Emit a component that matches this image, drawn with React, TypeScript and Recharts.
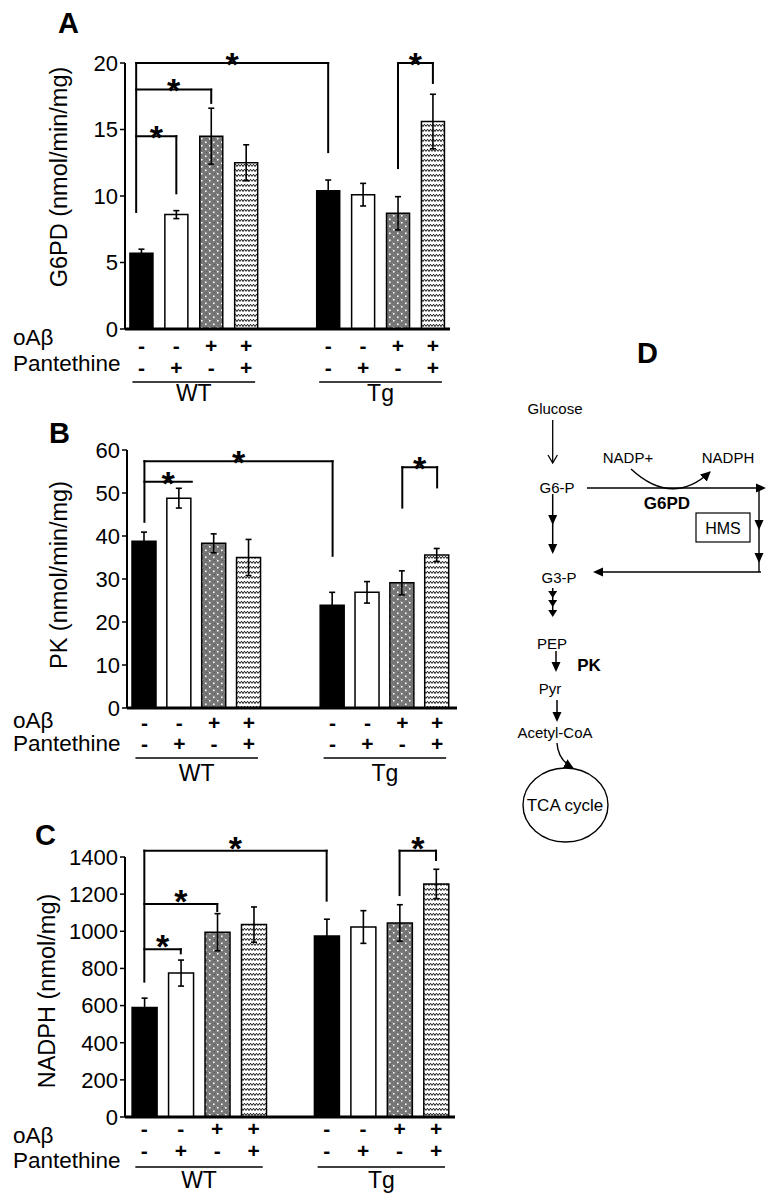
import React from "react";
import {
    BarChart,
    Bar,
    Cell,
    XAxis,
    YAxis,
    ErrorBar,
    ReferenceLine,
} from "recharts";

const FONT = "'Liberation Sans', Arial, sans-serif";

// treatment rows printed under each bar
const oabSigns = ["-", "-", "+", "+", "-", "-", "+", "+"];
const pantethineSigns = ["-", "+", "-", "+", "-", "+", "-", "+"];
const groupNames = ["WT", "Tg"];

// A: G6PD activity (nmol/min/mg)
const g6pdMeans = [5.7, 8.6, 14.5, 12.5, 10.4, 10.1, 8.7, 15.6];
const g6pdErrors = [0.3, 0.3, 2.1, 1.35, 0.8, 0.85, 1.25, 2.05];
const g6pdTicks = [0, 5, 10, 15, 20];

// B: PK activity (nmol/min/mg)
const pkMeans = [38.8, 48.8, 38.3, 35.0, 23.9, 26.9, 29.1, 35.6];
const pkErrors = [2.1, 2.3, 2.2, 4.2, 3.0, 2.5, 2.8, 1.5];
const pkTicks = [0, 10, 20, 30, 40, 50, 60];

// C: NADPH (nmol/mg)
const nadphMeans = [590, 775, 995, 1036, 975, 1023, 1045, 1255];
const nadphErrors = [50, 70, 100, 95, 90, 88, 98, 79];
const nadphTicks = [0, 200, 400, 600, 800, 1000, 1200, 1400];

// significance brackets: bar index at each end, bracket height, and where each leg stops
interface Bracket {
    from: number;
    to: number;
    y: number;
    fromY: number;
    toY: number;
}

const g6pdBrackets: Bracket[] = [
    { from: -0.15, to: 4, y: 20, fromY: 8.8, toY: 13.3 },
    { from: -0.15, to: 2, y: 18, fromY: 18, toY: 17 },
    { from: -0.15, to: 1, y: 14.5, fromY: 14.5, toY: 10.2 },
    { from: 6, to: 7, y: 20, fromY: 12.1, toY: 18.5 },
];
const pkBrackets: Bracket[] = [
    { from: 0, to: 4, y: 57.4, fromY: 43.3, toY: 35.4 },
    { from: 0, to: 1.36, y: 52.6, fromY: 52.6, toY: 52.6 },
    { from: 6, to: 7, y: 56, fromY: 46.6, toY: 51.3 },
];
const nadphBrackets: Bracket[] = [
    { from: 0, to: 4, y: 1434, fromY: 729, toY: 1165 },
    { from: 0, to: 2, y: 1147, fromY: 1147, toY: 1109 },
    { from: 0, to: 1, y: 903, fromY: 903, toY: 881 },
    { from: 6, to: 7, y: 1434, fromY: 1195, toY: 1384 },
];

const BAR_FILLS = ["#000000", "#ffffff", "url(#dotFill)", "url(#zigFill)"];

const Star = (props: any) => {
    const vb = props.viewBox || {};
    const cx = (vb.x || 0) + (vb.width || 0) / 2;
    return (
        <text
            x={cx}
            y={(vb.y || 0) - props.lift + 19}
            textAnchor="middle"
            fontSize={34}
            fontWeight="bold"
            fontFamily={FONT}
            fill="#000"
        >
            *
        </text>
    );
};

interface PanelProps {
    means: number[];
    errors: number[];
    brackets: Bracket[];
    yMax: number;
    yTicks: number[];
    plotLeft: number;
    plotRight: number;
    plotTop: number;
    plotBottom: number;
    xMin: number;
    xMax: number;
    gap: number;
    barSize: number;
    starLift: number;
    rows: number[]; // offsets below the axis: oAβ row, pantethine row, group line, group name
}

const BarPanel: React.FC<PanelProps> = (p) => {
    const width = 470;
    const xAxisH = 80;
    const top = p.plotTop - 45;
    const height = 45 + (p.plotBottom - p.plotTop) + xAxisH + 5;
    const pos = (i: number) => i + (i > 3.5 ? p.gap : 0);
    const data = p.means.map((v, i) => ({
        pos: pos(i),
        value: v,
        err: p.errors[i],
    }));
    const slotPx = (p.plotRight - p.plotLeft) / (p.xMax - p.xMin);

    const renderTick = (t: any) => {
        const i = t.index;
        const x = t.x;
        const y = t.y;
        const signStyle = {
            fontSize: 21,
            fontWeight: "bold" as const,
            fontFamily: FONT,
        };
        return (
            <g>
                <text x={x} y={y + p.rows[0]} textAnchor="middle" dominantBaseline="central" {...signStyle}>
                    {oabSigns[i]}
                </text>
                <text x={x} y={y + p.rows[1]} textAnchor="middle" dominantBaseline="central" {...signStyle}>
                    {pantethineSigns[i]}
                </text>
                {i % 4 === 0 && (
                    <g>
                        <line
                            x1={x - 9}
                            x2={x + 3 * slotPx + 9}
                            y1={y + p.rows[2]}
                            y2={y + p.rows[2]}
                            stroke="#000"
                            strokeWidth={1.6}
                        />
                        <text
                            x={x + 1.5 * slotPx}
                            y={y + p.rows[3]}
                            textAnchor="middle"
                            dominantBaseline="central"
                            fontSize={23}
                            fontFamily={FONT}
                        >
                            {groupNames[i / 4]}
                        </text>
                    </g>
                )}
            </g>
        );
    };

    const lineProps = {
        stroke: "#000",
        strokeWidth: 2,
        strokeLinecap: "square" as const,
        ifOverflow: "visible" as const,
    };

    const bracketLines = p.brackets.flatMap((b, k) => {
        const x1 = pos(b.from);
        const x2 = pos(b.to);
        const out = [
            <ReferenceLine
                key={`h${k}`}
                segment={[{ x: x1, y: b.y }, { x: x2, y: b.y }]}
                {...lineProps}
                label={<Star lift={p.starLift} />}
            />,
        ];
        if (b.fromY !== b.y)
            out.push(
                <ReferenceLine key={`l${k}`} segment={[{ x: x1, y: b.fromY }, { x: x1, y: b.y }]} {...lineProps} />
            );
        if (b.toY !== b.y)
            out.push(
                <ReferenceLine key={`r${k}`} segment={[{ x: x2, y: b.toY }, { x: x2, y: b.y }]} {...lineProps} />
            );
        return out;
    });

    return (
        <div style={{ position: "absolute", left: 0, top }}>
            <BarChart
                width={width}
                height={height}
                data={data}
                margin={{ top: 45, right: width - p.plotRight, bottom: 5, left: p.plotLeft - 60 }}
            >
                <XAxis
                    dataKey="pos"
                    type="number"
                    domain={[p.xMin, p.xMax]}
                    allowDataOverflow
                    ticks={data.map((d) => d.pos)}
                    interval={0}
                    height={xAxisH}
                    tickLine={false}
                    tickSize={0}
                    tickMargin={0}
                    axisLine={{ stroke: "#000", strokeWidth: 3 }}
                    tick={renderTick}
                />
                <YAxis
                    type="number"
                    domain={[0, p.yMax]}
                    ticks={p.yTicks}
                    interval={0}
                    width={60}
                    tickSize={5}
                    tickLine={{ stroke: "#000", strokeWidth: 1.5 }}
                    axisLine={{ stroke: "#000", strokeWidth: 2 }}
                    tick={{ fill: "#000", fontSize: 22, fontFamily: FONT }}
                />
                <Bar
                    dataKey="value"
                    barSize={p.barSize}
                    stroke="#000"
                    strokeWidth={1.5}
                    isAnimationActive={false}
                >
                    {data.map((d, i) => (
                        <Cell key={i} fill={BAR_FILLS[i % 4]} />
                    ))}
                    <ErrorBar dataKey="err" width={3} stroke="#000" strokeWidth={1.6} />
                </Bar>
                {bracketLines}
            </BarChart>
        </div>
    );
};

const tri = (x: number, y: number, dir: string, w = 9, l = 10) => {
    if (dir === "down") return `${x - w / 2},${y - l} ${x + w / 2},${y - l} ${x},${y}`;
    if (dir === "right") return `${x - l},${y - w / 2} ${x - l},${y + w / 2} ${x},${y}`;
    return `${x + l},${y - w / 2} ${x + l},${y + w / 2} ${x},${y}`;
};

const Overlay = () => {
    const t = { fontFamily: FONT, fill: "#000" };
    const small = { ...t, fontSize: 15 };
    return (
        <svg
            width={769}
            height={1199}
            style={{ position: "absolute", left: 0, top: 0 }}
        >
            <defs>
                <pattern id="dotFill" width={8} height={7} patternUnits="userSpaceOnUse">
                    <rect width={8} height={7} fill="#767676" />
                    <rect x={0} y={0} width={1} height={1} fill="#9a9a9a" />
                    <rect x={2} y={2} width={1} height={1} fill="#555" />
                    <rect x={6} y={1} width={1} height={1} fill="#555" />
                    <rect x={1} y={1} width={1.6} height={1.6} fill="#ffffff" />
                    <rect x={5} y={4.5} width={1.6} height={1.6} fill="#ffffff" />
                </pattern>
                <pattern id="zigFill" width={6} height={5} patternUnits="userSpaceOnUse">
                    <rect width={6} height={5} fill="#ffffff" />
                    <path d="M0,3.6 L1.5,1.2 L3,3.6 L4.5,1.2 L6,3.6" stroke="#111" strokeWidth={1} fill="none" />
                </pattern>
                <marker id="head" viewBox="0 0 10 10" refX={9} refY={5} markerWidth={10} markerHeight={10} markerUnits="userSpaceOnUse" orient="auto">
                    <path d="M0,0 L10,5 L0,10 z" fill="#000" />
                </marker>
            </defs>

            {/* panel letters */}
            <text x={58} y={33} fontSize={29} fontWeight="bold" {...t}>A</text>
            <text x={49} y={443} fontSize={29} fontWeight="bold" {...t}>B</text>
            <text x={35} y={845} fontSize={29} fontWeight="bold" {...t}>C</text>
            <text x={637} y={363} fontSize={29} fontWeight="bold" {...t}>D</text>

            {/* axis titles */}
            <text transform="translate(59,177) rotate(-90)" textAnchor="middle" dominantBaseline="central" fontSize={23.5} {...t}>
                G6PD (nmol/min/mg)
            </text>
            <text transform="translate(59,575) rotate(-90)" textAnchor="middle" dominantBaseline="central" fontSize={23.5} {...t}>
                PK (nmol/min/mg)
            </text>
            <text transform="translate(47,991) rotate(-90)" textAnchor="middle" dominantBaseline="central" fontSize={23.5} {...t}>
                NADPH (nmol/mg)
            </text>

            {/* row labels */}
            {[
                [337, 363],
                [720, 743],
                [1135, 1160],
            ].map(([a, b], k) => (
                <g key={k}>
                    <text x={13} y={a} dominantBaseline="central" fontSize={22.5} {...t}>oAβ</text>
                    <text x={13} y={b} dominantBaseline="central" fontSize={22.5} {...t}>Pantethine</text>
                </g>
            ))}

            {/* D: pathway diagram */}
            <text x={555} y={408} textAnchor="middle" dominantBaseline="central" {...small}>Glucose</text>
            <line x1={552.7} y1={420} x2={552.7} y2={463} stroke="#000" strokeWidth={1.3} />
            <polyline points="548,455 552.7,463 557.4,455" fill="none" stroke="#000" strokeWidth={1.3} />
            <text x={557} y={487} textAnchor="middle" dominantBaseline="central" {...small}>G6-P</text>
            <line x1={552.7} y1={494} x2={552.7} y2={552} stroke="#000" strokeWidth={1.5} />
            <polygon points={tri(552.7, 525, "down")} fill="#000" />
            <polygon points={tri(552.7, 554, "down")} fill="#000" />
            <text x={559} y={577} textAnchor="middle" dominantBaseline="central" {...small}>G3-P</text>
            <line x1={552.7} y1={588} x2={552.7} y2={614} stroke="#000" strokeWidth={1.5} />
            <polygon points={tri(552.7, 598, "down", 9, 7)} fill="#000" />
            <polygon points={tri(552.7, 607, "down", 9, 7)} fill="#000" />
            <polygon points={tri(552.7, 617, "down", 9, 7)} fill="#000" />
            <text x={552} y={643} textAnchor="middle" dominantBaseline="central" {...small}>PEP</text>
            <line x1={556} y1={651} x2={556} y2={668} stroke="#000" strokeWidth={1.5} />
            <polygon points={tri(556, 672, "down")} fill="#000" />
            <text x={589} y={665} textAnchor="middle" dominantBaseline="central" fontSize={17} fontWeight="bold" {...t}>PK</text>
            <text x={550} y={688} textAnchor="middle" dominantBaseline="central" {...small}>Pyr</text>
            <line x1={557} y1={700} x2={557} y2={716} stroke="#000" strokeWidth={1.5} />
            <polygon points={tri(557, 722, "down")} fill="#000" />
            <text x={555} y={732} textAnchor="middle" dominantBaseline="central" {...small}>Acetyl-CoA</text>
            <path d="M557,743 Q558,760 573,768" fill="none" stroke="#000" strokeWidth={1.4} markerEnd="url(#head)" />
            <ellipse cx={565.5} cy={805} rx={42.5} ry={37} fill="none" stroke="#000" strokeWidth={1.4} />
            <text x={565} y={805} textAnchor="middle" dominantBaseline="central" fontSize={17} {...t}>TCA cycle</text>

            <line x1={587} y1={488} x2={758} y2={488} stroke="#000" strokeWidth={1.4} />
            <polygon points={tri(766, 488, "right")} fill="#000" />
            <text x={628} y={457} textAnchor="middle" dominantBaseline="central" {...small}>NADP+</text>
            <text x={728} y={457} textAnchor="middle" dominantBaseline="central" {...small}>NADPH</text>
            <path d="M631,469 Q672,507 710,472" fill="none" stroke="#000" strokeWidth={1.4} markerEnd="url(#head)" />
            <text x={667} y={503} textAnchor="middle" dominantBaseline="central" fontSize={17} fontWeight="bold" {...t}>G6PD</text>
            <line x1={759} y1={488} x2={759} y2={572} stroke="#000" strokeWidth={1.4} />
            <polygon points={tri(759, 530, "down")} fill="#000" />
            <polygon points={tri(759, 563, "down")} fill="#000" />
            <rect x={696} y={513} width={54} height={29} fill="none" stroke="#000" strokeWidth={1.2} />
            <text x={723} y={528} textAnchor="middle" dominantBaseline="central" fontSize={16} {...t}>HMS</text>
            <line x1={761} y1={572} x2={600} y2={572} stroke="#000" strokeWidth={1.4} />
            <polygon points={tri(593, 572, "left")} fill="#000" />
        </svg>
    );
};

export default function App() {
    return (
        <div
            style={{
                position: "absolute",
                left: 0,
                top: 0,
                width: 769,
                height: 1199,
                background: "#fff",
                fontFamily: FONT,
            }}
        >
            <Overlay />
            <BarPanel
                means={g6pdMeans}
                errors={g6pdErrors}
                brackets={g6pdBrackets}
                yMax={20}
                yTicks={g6pdTicks}
                plotLeft={125}
                plotRight={450}
                plotTop={63}
                plotBottom={329}
                xMin={-0.47}
                xMax={8.84}
                gap={1.35}
                barSize={23}
                starLift={6.5}
                rows={[16, 38, 53, 64]}
            />
            <BarPanel
                means={pkMeans}
                errors={pkErrors}
                brackets={pkBrackets}
                yMax={60}
                yTicks={pkTicks}
                plotLeft={127}
                plotRight={457}
                plotTop={450}
                plotBottom={708}
                xMin={-0.5}
                xMax={8.97}
                gap={1.4}
                barSize={24}
                starLift={6}
                rows={[14, 35, 50, 65]}
            />
            <BarPanel
                means={nadphMeans}
                errors={nadphErrors}
                brackets={nadphBrackets}
                yMax={1400}
                yTicks={nadphTicks}
                plotLeft={125}
                plotRight={455}
                plotTop={857}
                plotBottom={1117}
                xMin={-0.53}
                xMax={8.52}
                gap={1.0}
                barSize={25}
                starLift={10}
                rows={[11, 33, 50, 63]}
            />
        </div>
    );
}
